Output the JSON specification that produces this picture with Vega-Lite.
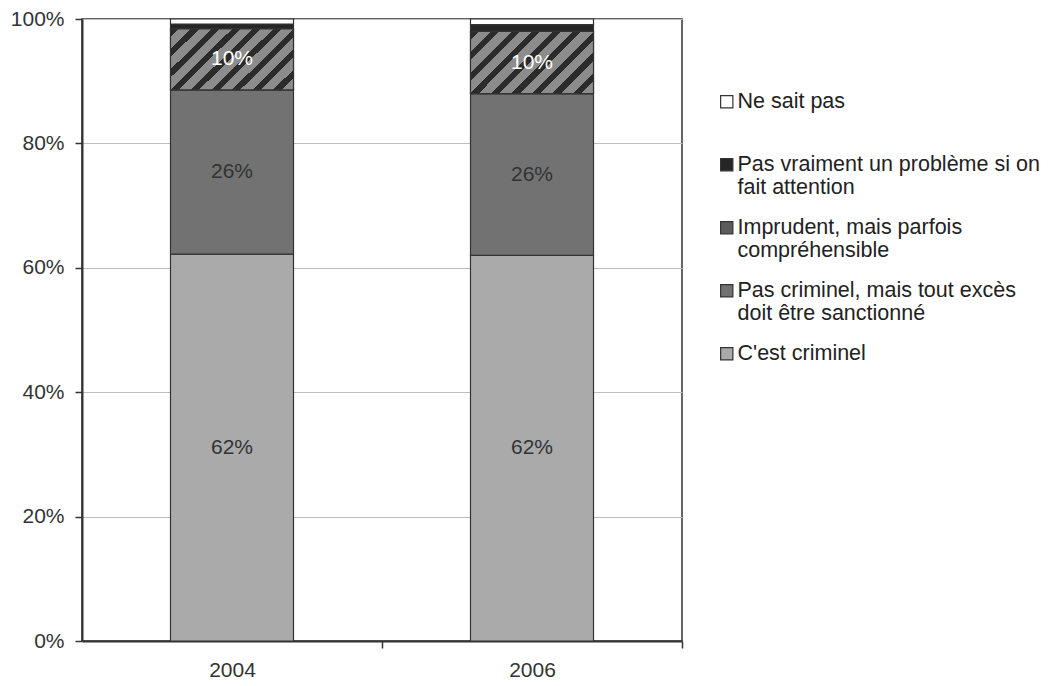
{
  "$schema": "https://vega.github.io/schema/vega-lite/v6.json",
  "width": 600,
  "height": 622,
  "autosize": {"type": "none"},
  "padding": {"left": 82, "top": 19, "right": 377, "bottom": 45},
  "background": "white",
  "config": {
    "font": "Liberation Sans",
    "view": {"stroke": "#333333", "strokeWidth": 1.5},
    "axis": {
      "labelFont": "Liberation Sans",
      "labelFontSize": 21,
      "labelColor": "#333333",
      "domainColor": "#333333",
      "domainWidth": 2,
      "tickColor": "#333333",
      "tickWidth": 1.5,
      "tickSize": 7,
      "title": null
    }
  },
  "data": {
    "values": [
      {"year": "2004", "cat": "C'est criminel", "k": 1, "v": 0.622},
      {"year": "2004", "cat": "Pas criminel, mais tout excès doit être sanctionné", "k": 2, "v": 0.264},
      {"year": "2004", "cat": "Imprudent, mais parfois compréhensible", "k": 3, "v": 0.098},
      {"year": "2004", "cat": "Pas vraiment un problème si on fait attention", "k": 4, "v": 0.008},
      {"year": "2004", "cat": "Ne sait pas", "k": 5, "v": 0.008},
      {"year": "2006", "cat": "C'est criminel", "k": 1, "v": 0.62},
      {"year": "2006", "cat": "Pas criminel, mais tout excès doit être sanctionné", "k": 2, "v": 0.26},
      {"year": "2006", "cat": "Imprudent, mais parfois compréhensible", "k": 3, "v": 0.1},
      {"year": "2006", "cat": "Pas vraiment un problème si on fait attention", "k": 4, "v": 0.011},
      {"year": "2006", "cat": "Ne sait pas", "k": 5, "v": 0.009}
    ]
  },
  "transform": [
    {"stack": "v", "groupby": ["year"], "sort": [{"field": "k", "order": "ascending"}], "as": ["v0", "v1"]}
  ],
  "encoding": {
    "x": {
      "field": "year",
      "type": "nominal",
      "scale": {"paddingInner": 0.59, "paddingOuter": 0.295},
      "axis": {"labelAngle": 0, "tickOffset": 150, "labelOffset": -150, "labelPadding": 11, "grid": false}
    }
  },
  "layer": [
    {
      "mark": {"type": "bar", "stroke": "#333333", "strokeWidth": 1.2},
      "encoding": {
        "y": {
          "field": "v1",
          "type": "quantitative",
          "scale": {"domain": [0, 1], "nice": false},
          "axis": {
            "values": [0, 0.2, 0.4, 0.6, 0.8, 1],
            "format": ".0%",
            "grid": true,
            "gridColor": "#bdbdbd",
            "gridWidth": 1,
            "labelPadding": 11
          }
        },
        "y2": {"field": "v0"},
        "fill": {
          "field": "cat",
          "type": "nominal",
          "scale": {
            "domain": [
              "Ne sait pas",
              "Pas vraiment un problème si on fait attention",
              "Imprudent, mais parfois compréhensible",
              "Pas criminel, mais tout excès doit être sanctionné",
              "C'est criminel"
            ],
            "range": ["#ffffff", "#262626", "#5c5c5c", "#727272", "#aaaaaa"]
          },
          "legend": {
            "orient": "none",
            "legendX": 634,
            "legendY": 72,
            "title": null,
            "symbolType": "square",
            "symbolSize": 150,
            "symbolStrokeColor": "#333333",
            "symbolStrokeWidth": 1.2,
            "labelFont": "Liberation Sans",
            "labelFontSize": 21.5,
            "labelColor": "#222222",
            "labelOffset": 0,
            "labelLimit": 400,
            "rowPadding": 17,
            "labelExpr": "datum.label == 'Ne sait pas' ? ['Ne sait pas', ''] : datum.label == 'Pas vraiment un problème si on fait attention' ? ['Pas vraiment un problème si on', 'fait attention'] : datum.label == 'Imprudent, mais parfois compréhensible' ? ['Imprudent, mais parfois', 'compréhensible'] : datum.label == 'Pas criminel, mais tout excès doit être sanctionné' ? ['Pas criminel, mais tout excès', 'doit être sanctionné'] : [datum.label, '']",
            "encode": {
              "symbols": {
                "update": {
                  "stroke": {"value": "#333333"},
                  "strokeWidth": {"value": 1.2}
                }
              }
            }
          }
        }
      }
    },
    {
      "transform": [{"filter": "datum.cat === 'Imprudent, mais parfois compréhensible'"}],
      "mark": {
        "type": "bar",
        "stroke": "#333333",
        "strokeWidth": 1.2,
        "fill": {
          "gradient": "linear",
          "x1": 0, "y1": 0, "x2": 1.199, "y2": 0.604,
          "stops": [
            {"offset": 0, "color": "#2b2b2b"}, {"offset": 0.0444, "color": "#2b2b2b"},
            {"offset": 0.0444, "color": "#8c8c8c"}, {"offset": 0.1111, "color": "#8c8c8c"},
            {"offset": 0.1111, "color": "#2b2b2b"}, {"offset": 0.1556, "color": "#2b2b2b"},
            {"offset": 0.1556, "color": "#8c8c8c"}, {"offset": 0.2222, "color": "#8c8c8c"},
            {"offset": 0.2222, "color": "#2b2b2b"}, {"offset": 0.2667, "color": "#2b2b2b"},
            {"offset": 0.2667, "color": "#8c8c8c"}, {"offset": 0.3333, "color": "#8c8c8c"},
            {"offset": 0.3333, "color": "#2b2b2b"}, {"offset": 0.3778, "color": "#2b2b2b"},
            {"offset": 0.3778, "color": "#8c8c8c"}, {"offset": 0.4444, "color": "#8c8c8c"},
            {"offset": 0.4444, "color": "#2b2b2b"}, {"offset": 0.4889, "color": "#2b2b2b"},
            {"offset": 0.4889, "color": "#8c8c8c"}, {"offset": 0.5556, "color": "#8c8c8c"},
            {"offset": 0.5556, "color": "#2b2b2b"}, {"offset": 0.6, "color": "#2b2b2b"},
            {"offset": 0.6, "color": "#8c8c8c"}, {"offset": 0.6667, "color": "#8c8c8c"},
            {"offset": 0.6667, "color": "#2b2b2b"}, {"offset": 0.7111, "color": "#2b2b2b"},
            {"offset": 0.7111, "color": "#8c8c8c"}, {"offset": 0.7778, "color": "#8c8c8c"},
            {"offset": 0.7778, "color": "#2b2b2b"}, {"offset": 0.8222, "color": "#2b2b2b"},
            {"offset": 0.8222, "color": "#8c8c8c"}, {"offset": 0.8889, "color": "#8c8c8c"},
            {"offset": 0.8889, "color": "#2b2b2b"}, {"offset": 0.9333, "color": "#2b2b2b"},
            {"offset": 0.9333, "color": "#8c8c8c"}, {"offset": 1, "color": "#8c8c8c"}
          ]
        }
      },
      "encoding": {
        "y": {"field": "v1", "type": "quantitative"},
        "y2": {"field": "v0"}
      }
    },
    {
      "transform": [
        {"filter": "datum.v >= 0.05"},
        {"fold": ["v0", "v1"], "as": ["edge", "pos"]}
      ],
      "mark": {"type": "text", "font": "Liberation Sans", "fontSize": 21, "baseline": "middle"},
      "encoding": {
        "y": {"aggregate": "mean", "field": "pos", "type": "quantitative", "stack": null},
        "detail": {"field": "cat"},
        "text": {"aggregate": "max", "field": "v", "type": "quantitative", "format": ".0%"},
        "color": {
          "condition": {"test": "datum.cat === 'Imprudent, mais parfois compréhensible'", "value": "#ffffff"},
          "value": "#333333"
        }
      }
    }
  ]
}
